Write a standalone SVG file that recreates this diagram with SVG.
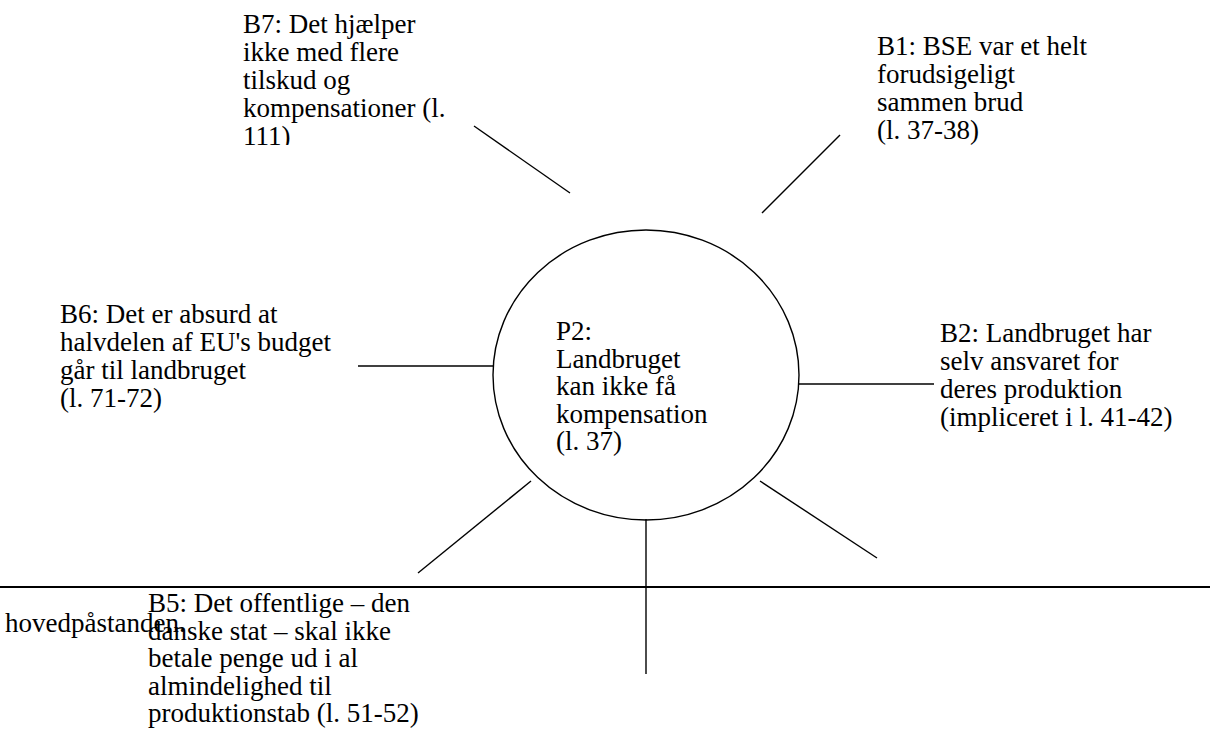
<svg xmlns="http://www.w3.org/2000/svg" width="1210" height="735" viewBox="0 0 1210 735">
<style>
text{font-family:"Liberation Serif","Times New Roman",serif;font-size:27px;fill:#000}
.ln{stroke:#000;stroke-width:1.4;fill:none}
.base{stroke:#000;stroke-width:2.2;fill:none}
</style>
<defs>
<clipPath id="clipB7"><rect x="230" y="0" width="260" height="145"/></clipPath>
<clipPath id="clipB1"><rect x="860" y="0" width="300" height="145"/></clipPath>
</defs>
<rect width="1210" height="735" fill="#fff"/>
<g id="connectors">
<line class="ln" x1="474" y1="126" x2="570" y2="193"/>
<line class="ln" x1="840" y1="135" x2="762" y2="213"/>
<line class="ln" x1="358" y1="366" x2="493" y2="366"/>
<line class="ln" x1="799" y1="384" x2="934" y2="384"/>
<line class="ln" x1="531" y1="481" x2="418" y2="573"/>
<line class="ln" x1="760" y1="481" x2="877" y2="558"/>
<line class="ln" x1="646" y1="519" x2="646" y2="674"/>
<line class="base" x1="0" y1="587" x2="1210" y2="587"/>
</g>
<g id="P2">
<ellipse class="ln" cx="646" cy="375" rx="153" ry="145"/>
<text><tspan x="556" y="340">P2:</tspan><tspan x="556" y="367.5">Landbruget</tspan><tspan x="556" y="395">kan ikke få</tspan><tspan x="556" y="422.5">kompensation</tspan><tspan x="556" y="450">(l. 37)</tspan></text>
</g>
<g id="B7" clip-path="url(#clipB7)">
<text><tspan x="243" y="33">B7: Det hjælper</tspan><tspan x="243" y="61">ikke med flere</tspan><tspan x="243" y="89">tilskud og</tspan><tspan x="243" y="117">kompensationer  (l.</tspan><tspan x="243" y="145">111)</tspan></text>
</g>
<g id="B1" clip-path="url(#clipB1)">
<text><tspan x="877" y="55">B1: BSE var et helt</tspan><tspan x="877" y="83">forudsigeligt</tspan><tspan x="877" y="111">sammen brud</tspan><tspan x="877" y="139">(l. 37-38)</tspan></text>
</g>
<g id="B6">
<text><tspan x="60" y="323">B6: Det er absurd at</tspan><tspan x="60" y="351">halvdelen af EU's budget</tspan><tspan x="60" y="379">går til landbruget</tspan><tspan x="60" y="407">(l. 71-72)</tspan></text>
</g>
<g id="B2">
<text><tspan x="940" y="342">B2: Landbruget har</tspan><tspan x="940" y="370">selv ansvaret for</tspan><tspan x="940" y="398">deres produktion</tspan><tspan x="940" y="426">(impliceret i l. 41-42)</tspan></text>
</g>
<g id="B5">
<text><tspan x="148" y="612">B5: Det offentlige – den</tspan><tspan x="148" y="639.5">danske stat – skal ikke</tspan><tspan x="148" y="667">betale penge ud i al</tspan><tspan x="148" y="694.5">almindelighed til</tspan><tspan x="148" y="722">produktionstab (l. 51-52)</tspan></text>
</g>
<g id="note">
<text x="5" y="632">hovedpåstanden.</text>
</g>
</svg>
